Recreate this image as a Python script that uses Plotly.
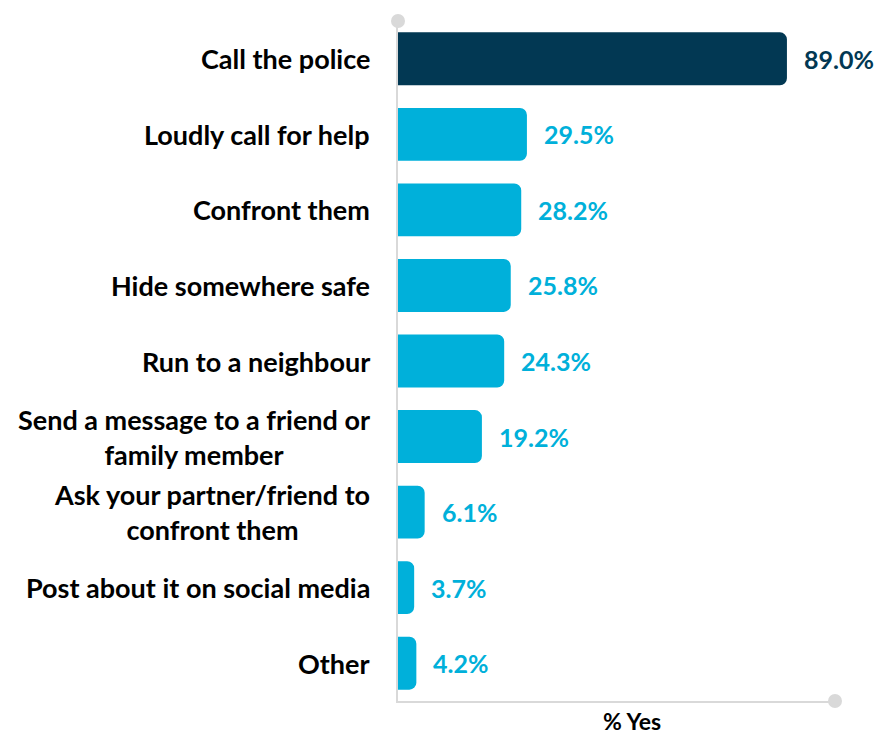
import plotly.graph_objects as go

categories = [
    "Call the police",
    "Loudly call for help",
    "Confront them",
    "Hide somewhere safe",
    "Run to a neighbour",
    "Send a message to a friend or<br>family member",
    "Ask your partner/friend to<br>confront them",
    "Post about it on social media",
    "Other",
]
values = [89.0, 29.5, 28.2, 25.8, 24.3, 19.2, 6.1, 3.7, 4.2]
value_labels = ["89.0%", "29.5%", "28.2%", "25.8%", "24.3%", "19.2%", "6.1%", "3.7%", "4.2%"]
axis_title = "% Yes"

DARK = "#023853"
LIGHT = "#00B0DA"
GREY = "#D9D9D9"
FONT = "Lato"

colors = [DARK] + [LIGHT] * (len(values) - 1)
ypos = list(range(len(categories)))

W, H = 878, 737
L, R, T, B = 398, 43, 21, 36

fig = go.Figure()
fig.add_trace(go.Bar(
    x=values, y=ypos, orientation="h",
    marker=dict(color=colors, line=dict(width=0)),
    hoverinfo="skip",
))

annotations = []
for i, (cat, v, lab, c) in enumerate(zip(categories, values, value_labels, colors)):
    annotations.append(dict(
        x=0, xref="paper", y=i, yref="y", text="<b>%s</b>" % cat,
        xanchor="right", yanchor="middle", align="center", xshift=-26,
        showarrow=False, font=dict(family=FONT, size=27, color="#000000"),
    ))
    annotations.append(dict(
        x=v, xref="x", y=i, yref="y", text="<b>%s</b>" % lab,
        xanchor="left", yanchor="middle", xshift=15,
        showarrow=False, font=dict(family=FONT, size=25, color=c),
    ))

pw = W - L - R
ph = H - T - B
annotations.append(dict(
    x=(632 - L) / pw, xref="paper", y=-(721 - (H - B)) / ph, yref="paper",
    text="<b>%s</b>" % axis_title, xanchor="center", yanchor="middle",
    showarrow=False, font=dict(family=FONT, size=23, color="#000000"),
))

shapes = [
    dict(type="circle", xref="x domain", yref="y domain", xsizemode="pixel", ysizemode="pixel",
         xanchor=0, yanchor=1, x0=-7, x1=7, y0=-7, y1=7,
         fillcolor=GREY, line=dict(width=0), layer="above"),
    dict(type="circle", xref="x domain", yref="y domain", xsizemode="pixel", ysizemode="pixel",
         xanchor=1, yanchor=0, x0=-7, x1=7, y0=-7, y1=7,
         fillcolor=GREY, line=dict(width=0), layer="above"),
]

fig.update_layout(
    width=W, height=H,
    margin=dict(l=L, r=R, t=T, b=B),
    paper_bgcolor="white", plot_bgcolor="white",
    showlegend=False,
    bargap=0.30,
    barcornerradius=7,
    annotations=annotations,
    shapes=shapes,
    xaxis=dict(range=[0, 100], showgrid=False, zeroline=False, showticklabels=False,
               showline=True, linecolor=GREY, linewidth=2, ticks="", fixedrange=True),
    yaxis=dict(range=[len(categories) - 0.5, -0.5], showgrid=False, zeroline=False,
               showticklabels=False, showline=True, linecolor=GREY, linewidth=2, ticks="",
               fixedrange=True),
    font=dict(family=FONT),
)

fig.write_html(
    "out.html",
    config={"displayModeBar": False},
    post_script="document.body.style.margin='0';document.body.style.overflow='hidden';",
)
